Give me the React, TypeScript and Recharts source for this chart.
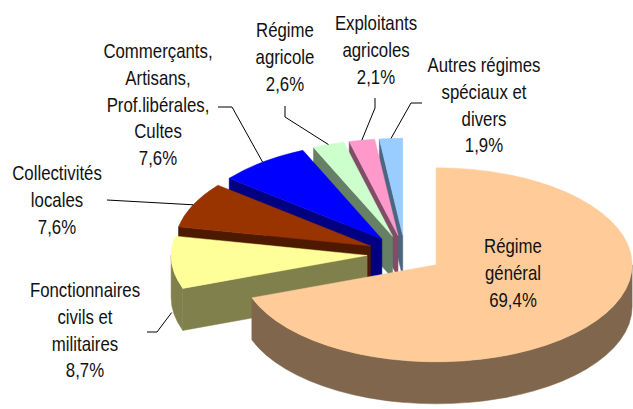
import React from 'react';
import { PieChart, Pie } from 'recharts';

// ---- data ----
const categories = [
  'Régime général',
  'Fonctionnaires civils et militaires',
  'Collectivités locales',
  'Commerçants, Artisans, Prof.libérales, Cultes',
  'Régime agricole',
  'Exploitants agricoles',
  'Autres régimes spéciaux et divers',
];
const values = [69.4, 8.7, 7.6, 7.6, 2.6, 2.1, 1.9];
const valueLabels = ['69,4%', '8,7%', '7,6%', '7,6%', '2,6%', '2,1%', '1,9%'];
const labelLines = [
  ['Régime', 'général'],
  ['Fonctionnaires', 'civils et', 'militaires'],
  ['Collectivités', 'locales'],
  ['Commerçants,', 'Artisans,', 'Prof.libérales,', 'Cultes'],
  ['Régime', 'agricole'],
  ['Exploitants', 'agricoles'],
  ['Autres régimes', 'spéciaux et', 'divers'],
];
const colors = ['#FFCC99', '#FFFF99', '#993300', '#0000FF', '#CCFFCC', '#FF99CC', '#99CCFF'];

// ---- layout (positions / styles, kept apart from data) ----
const W = 633;
const H = 409;
const CX = 405;
const CY = 254;
const RADIUS = 196;
const TILT = 0.495;
const DEPTH = 42;
const EXPLODE = 38;
const RAD = Math.PI / 180;
const FONT = '"Liberation Sans", Arial, sans-serif';
const FONT_SIZE = 20.5;
const NARROW = 0.82;
const LINE_H = 26.8;

// text center x, first baseline y, leader elbow points (from text to slice), anchor drop
const labelLayout = [
  { x: 513, y: 253, leader: [] as number[][], drop: 0 },
  { x: 85, y: 297, leader: [[147, 332], [157, 332]], drop: 50 },
  { x: 57, y: 180, leader: [[107, 200]], drop: 0 },
  { x: 158, y: 58, leader: [[218, 107], [232, 107]], drop: 0 },
  { x: 285, y: 37, leader: [[285, 106], [285, 117]], drop: 0 },
  { x: 376, y: 30, leader: [[375, 98], [375, 108]], drop: 0 },
  { x: 484, y: 72, leader: [[422, 103], [411, 103]], drop: 0 },
];

const data = categories
  .map((name, i) => ({ name, value: values[i], fill: colors[i], idx: i }))
  .reverse();

function darken(hex: string, f = 0.5) {
  const n = parseInt(hex.slice(1), 16);
  const r = Math.round(((n >> 16) & 255) * f);
  const g = Math.round(((n >> 8) & 255) * f);
  const b = Math.round((n & 255) * f);
  return `rgb(${r},${g},${b})`;
}

function geom(cx: number, cy: number, R: number, s: number, e: number) {
  const mid = (s + e) / 2;
  const ox = cx + EXPLODE * Math.cos(mid * RAD);
  const oy = cy - EXPLODE * TILT * Math.sin(mid * RAD);
  const P = (a: number, d = 0): [number, number] => [
    ox + R * Math.cos(a * RAD),
    oy - R * TILT * Math.sin(a * RAD) + d,
  ];
  return { ox, oy, P, mid };
}

function Slice3D(props: any) {
  const { cx, cy, outerRadius, startAngle, endAngle } = props;
  const fill = props.fill || (props.payload && props.payload.fill) || '#ccc';
  const s = Math.min(startAngle, endAngle);
  const e = Math.max(startAngle, endAngle);
  const R = outerRadius;
  const ry = R * TILT;
  const { ox, oy, P } = geom(cx, cy, R, s, e);
  const side = darken(fill);
  const parts: React.ReactNode[] = [];

  const radial = (a: number, key: string) => {
    const [x, y] = P(a);
    const d = `M${ox},${oy} L${x},${y} L${x},${y + DEPTH} L${ox},${oy + DEPTH} Z`;
    parts.push(<path key={key} d={d} fill={side} stroke={side} strokeWidth={0.5} />);
  };
  if (Math.cos(s * RAD) > 0.001) radial(s, 'ws');
  if (Math.cos(e * RAD) < -0.001) radial(e, 'we');

  for (let base = -360; base <= 720; base += 360) {
    const lo = Math.max(s, base + 180);
    const hi = Math.min(e, base + 360);
    if (hi - lo > 0.01) {
      const [x1, y1] = P(lo);
      const [x2, y2] = P(hi);
      const large = hi - lo > 180 ? 1 : 0;
      const d = `M${x1},${y1} A${R},${ry} 0 ${large} 0 ${x2},${y2} L${x2},${y2 + DEPTH} A${R},${ry} 0 ${large} 1 ${x1},${y1 + DEPTH} Z`;
      parts.push(<path key={`wo${base}`} d={d} fill={side} stroke={side} strokeWidth={0.5} />);
    }
  }

  const [sx, sy] = P(s);
  const [ex, ey] = P(e);
  const large = e - s > 180 ? 1 : 0;
  const top = `M${ox},${oy} L${sx},${sy} A${R},${ry} 0 ${large} 0 ${ex},${ey} Z`;
  parts.push(<path key="top" d={top} fill={fill} stroke={fill} strokeWidth={0.5} />);
  return <g>{parts}</g>;
}

function Label3D(props: any) {
  const { cx, cy, outerRadius, payload } = props;
  const i = payload && payload.idx !== undefined ? payload.idx : (payload?.payload?.idx ?? 0);
  const L = labelLayout[i];
  const lines = [...labelLines[i], valueLabels[i]];
  let leader: React.ReactNode = null;
  if (L.leader.length) {
    const s = Math.min(props.startAngle, props.endAngle);
    const e = Math.max(props.startAngle, props.endAngle);
    const { P, mid } = geom(cx, cy, outerRadius, s, e);
    const [ax, ay] = P(mid, L.drop);
    const pts = [...L.leader, [ax, ay]].map((p) => p.join(',')).join(' ');
    leader = <polyline points={pts} fill="none" stroke="#000" strokeWidth={1} />;
  }
  return (
    <g>
      {leader}
      <g transform={`translate(${L.x},0) scale(${NARROW},1)`}>
        <text x={0} y={L.y} textAnchor="middle" fontFamily={FONT} fontSize={FONT_SIZE} fill="#111">
          {lines.map((t, k) => (
            <tspan key={k} x={0} y={L.y + k * LINE_H}>
              {t}
            </tspan>
          ))}
        </text>
      </g>
    </g>
  );
}

export default function App() {
  return (
    <div style={{ position: 'absolute', left: 0, top: 0, width: W, height: H, background: '#fff' }}>
      <PieChart width={W} height={H} margin={{ top: 0, right: 0, bottom: 0, left: 0 }}>
        <Pie
          data={data}
          dataKey="value"
          nameKey="name"
          cx={CX}
          cy={CY}
          outerRadius={RADIUS}
          innerRadius={0}
          startAngle={90}
          endAngle={450}
          isAnimationActive={false}
          shape={Slice3D}
          label={Label3D}
          labelLine={false}
        />
      </PieChart>
    </div>
  );
}
